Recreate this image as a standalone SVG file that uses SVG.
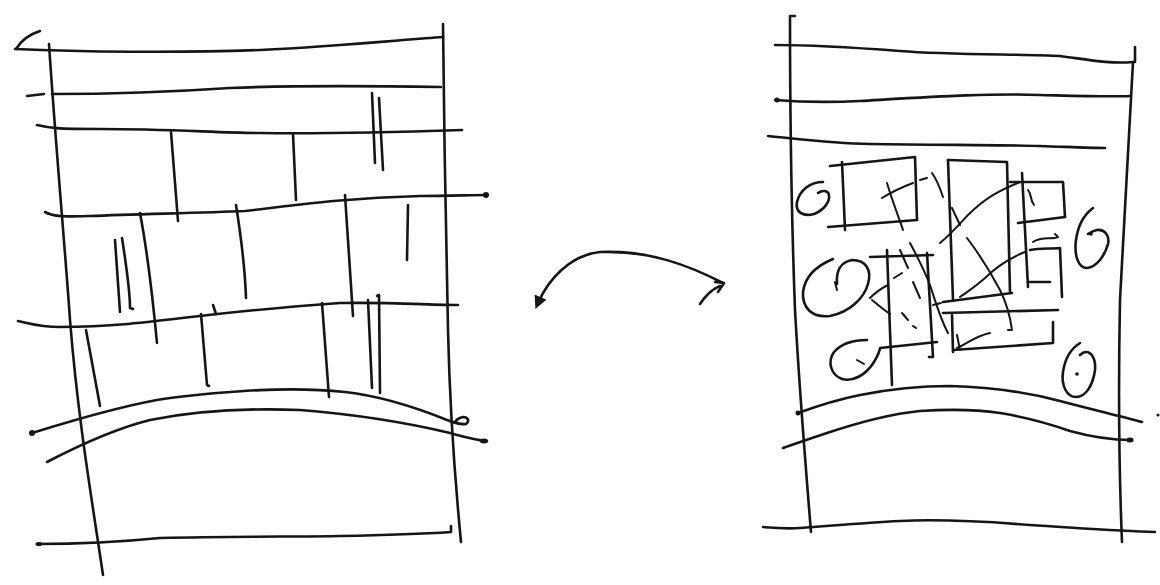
<svg xmlns="http://www.w3.org/2000/svg" width="1160" height="585" viewBox="0 0 1160 585">
<defs>
<style>
.s{fill:none;stroke:#151515;stroke-width:2.6;stroke-linecap:round;stroke-linejoin:round}
.t{fill:none;stroke:#151515;stroke-width:2;stroke-linecap:round;stroke-linejoin:round}
.d{fill:#151515}
</style>
<marker id="ah" viewBox="0 0 10 10" refX="5" refY="5" markerWidth="5" markerHeight="5" orient="auto-start-reverse">
<path d="M0,0 L10,5 L0,10 Z" fill="#151515"/>
</marker>
</defs>
<rect width="1160" height="585" fill="#fff"/>

<g id="left-panel">
<path class="s" d="M16,49 Q24,36 40,31"/>
<path class="s" d="M15,49 C80,52 180,53 260,50 C340,46 400,40 443,37"/>
<path class="s" d="M443,24 C444,120 446,250 448,330 C450,420 455,480 461,542"/>
<path class="s" d="M49,44 C56,150 66,260 70,320 C78,420 92,500 103,575"/>
<path class="s" d="M27,96 L44,94"/>
<path class="s" d="M52,94 C110,94 170,92 230,88 C300,85 380,86 441,87"/>
<path class="s" d="M37,125 C50,128 55,129 100,129 C170,129 220,133 260,133 C330,134 400,132 462,130"/>
<path class="s" d="M171,132 L178,221"/>
<path class="s" d="M293,134 L296,200"/>
<path class="s" d="M372,93 L375,163"/>
<path class="s" d="M379,98 L383,170"/>
<path class="s" d="M45,212 C52,216 60,217 90,216 C140,214 200,213 245,211 C290,206 340,198 420,196 C450,196 470,195 487,195"/>
<circle class="d" cx="486" cy="195" r="3"/>
<path class="s" d="M140,213 C147,250 152,290 157,343"/>
<path class="s" d="M236,205 C240,230 245,270 246,298"/>
<path class="s" d="M345,195 C348,240 351,280 353,316"/>
<path class="s" d="M408,205 L407,260"/>
<path class="s" d="M115,240 L120,312"/>
<path class="s" d="M122,238 C127,270 130,295 130,308 L133,309"/>
<path class="s" d="M18,321 C32,324 40,327 60,327 C110,327 150,322 200,316 C250,310 300,306 340,303 C390,302 430,305 458,305"/>
<path class="s" d="M86,330 L100,406"/>
<path class="s" d="M201,314 L207,385 L209,386"/>
<path class="s" d="M213,305 L216,314"/>
<path class="s" d="M322,303 L329,397"/>
<path class="s" d="M368,300 L372,388"/>
<path class="s" d="M377,296 L379,295 L380,393"/>
<path class="s" d="M32,433 C90,415 140,402 170,398 C230,391 290,386 345,392 C380,396 410,405 447,420 C455,423 460,425 466,424 C470,421 468,417 463,417 C458,418 455,421 455,423"/>
<circle class="d" cx="32" cy="433" r="3"/>
<path class="s" d="M47,462 C70,450 110,430 150,420 C200,410 250,408 300,410 C350,414 400,421 450,433 C465,437 475,440 487,441"/>
<ellipse class="d" cx="484" cy="441" rx="4" ry="2.5"/>
<path class="s" d="M37,544 C90,544 130,541 160,538 C240,536 300,537 340,536 C390,535 420,534 451,532 L451,526"/>
<ellipse class="d" cx="39" cy="544" rx="3.5" ry="2"/>
</g>

<g id="arrow">
<path class="s" d="M723,283 C690,266 650,250 600,252 C570,255 548,280 538,303" marker-end="url(#ah)"/>
<path class="s" d="M715,282 L724,283 L718,292"/>
<path class="s" d="M700,304 C706,295 712,289 720,286"/>
</g>

<g id="right-panel">
<path class="s" d="M795,16 L790,16 C790,100 792,230 795,310 C800,400 806,470 811,532"/>
<path class="s" d="M1135,47 L1135,62"/>
<path class="s" d="M1133,62 C1130,130 1124,220 1120,300 C1118,400 1119,470 1122,542"/>
<path class="s" d="M775,45 C820,45 860,48 900,51 C950,55 1020,54 1060,56 C1090,60 1110,64 1133,62"/>
<path class="s" d="M775,100 C800,102 820,103 860,101 C930,97 990,93 1040,95 C1080,96 1110,97 1130,96"/>
<circle class="d" cx="777" cy="100" r="2.5"/>
<path class="s" d="M768,136 C800,139 830,143 870,144 C950,145 1010,145 1040,146 C1070,147 1090,148 1105,148"/>

<path class="s" d="M823,182 C810,182 800,190 797,202 C795,212 803,217 814,214 C824,210 830,202 829,195 C828,190 822,190 818,193"/>

<path class="s" d="M830,166 L915,157 L917,220"/>
<path class="s" d="M842,162 L845,230"/>
<path class="s" d="M828,227 L917,220"/>
<path class="t" d="M882,198 C895,190 905,186 913,183"/>
<path class="t" d="M887,183 C892,200 898,215 903,230"/>
<path class="t" d="M920,180 L927,178"/>
<path class="t" d="M932,173 C937,180 940,188 943,197"/>
<path class="t" d="M952,208 L960,225"/>

<path class="s" d="M948,160 L1007,162 L1010,293"/>
<path class="s" d="M948,160 L953,300"/>
<path class="s" d="M943,302 L1012,293"/>

<path class="s" d="M1010,182 L1063,182 L1065,217"/>
<path class="s" d="M1022,173 C1024,210 1026,250 1028,287"/>
<path class="s" d="M1018,223 L1065,217"/>
<path class="t" d="M1028,190 C1032,195 1030,200 1034,205"/>
<path class="s" d="M1030,250 C1040,248 1050,249 1060,248 L1062,297"/>
<path class="s" d="M1028,282 L1050,282"/>
<path class="t" d="M1033,242 C1042,236 1052,240 1058,237 L1055,234"/>
<path class="t" d="M1020,182 C1000,190 985,198 968,215 C958,226 950,235 940,243"/>
<path class="t" d="M1025,252 C1010,258 995,268 985,278 C975,287 967,292 960,297"/>
<path class="t" d="M967,238 C980,255 992,275 1000,290 C1006,302 1010,315 1012,330 L1008,330"/>

<path class="s" d="M943,313 L1058,310"/>
<path class="s" d="M952,315 L953,352"/>
<path class="s" d="M953,350 L1053,343 L1053,322"/>
<path class="t" d="M957,348 C965,345 975,336 990,333"/>
<path class="t" d="M957,335 L960,350"/>

<path class="s" d="M870,257 L933,255"/>
<path class="s" d="M887,250 L892,385"/>
<path class="s" d="M927,253 L933,357 L929,357"/>
<path class="t" d="M910,243 C918,258 925,272 930,285 C935,300 940,318 948,333"/>
<path class="t" d="M900,250 L908,268"/>
<path class="t" d="M913,282 L920,298"/>
<path class="t" d="M933,305 L941,303"/>

<path class="s" d="M837,284 C836,272 840,262 852,260 C866,260 872,270 868,284 C864,298 850,312 830,316 C812,318 802,308 803,292 C805,276 816,266 833,259"/>
<path class="t" d="M835,282 L837,290"/>
<path class="t" d="M870,298 C876,292 882,288 888,285"/>
<path class="t" d="M872,300 C878,305 884,310 890,314"/>
<path class="t" d="M894,278 L902,273"/>
<path class="t" d="M902,313 L908,320"/>
<path class="t" d="M913,326 L916,328"/>

<path class="s" d="M867,340 C855,340 842,343 834,352 C827,362 831,375 842,379 C853,382 866,375 874,362 C878,355 880,350 880,348 L937,342"/>
<path class="t" d="M857,360 L864,364"/>

<path class="s" d="M1093,208 C1085,214 1078,225 1076,240 C1074,255 1078,268 1087,268 C1097,267 1105,255 1108,244 C1110,235 1104,229 1097,230 C1092,231 1090,233 1088,234"/>
<circle class="d" cx="1091" cy="234" r="1.8"/>
<path class="s" d="M1080,343 C1072,348 1065,358 1063,372 C1061,386 1067,397 1076,397 C1086,397 1093,385 1095,370 C1096,360 1092,352 1086,352 C1083,352 1081,354 1080,355"/>
<circle class="d" cx="1077" cy="374" r="1.8"/>

<path class="s" d="M798,413 C820,405 840,399 860,395 C890,389 920,386 950,386 C990,387 1030,393 1060,401 C1090,409 1120,416 1142,422"/>
<circle class="d" cx="798" cy="413" r="2.5"/>
<path class="s" d="M783,448 C800,442 815,437 827,433 C860,422 890,414 920,411 C950,409 980,410 1000,413 C1030,418 1050,424 1070,431 C1095,438 1115,440 1132,440"/>
<ellipse class="d" cx="1130" cy="440" rx="3.5" ry="2.5"/>
<circle class="d" cx="1158" cy="415" r="1.5"/>
<path class="s" d="M763,527 C775,528 785,529 800,528 C830,526 860,523 900,521 C940,519 980,521 1030,525 C1080,528 1120,531 1155,532"/>
</g>
</svg>
